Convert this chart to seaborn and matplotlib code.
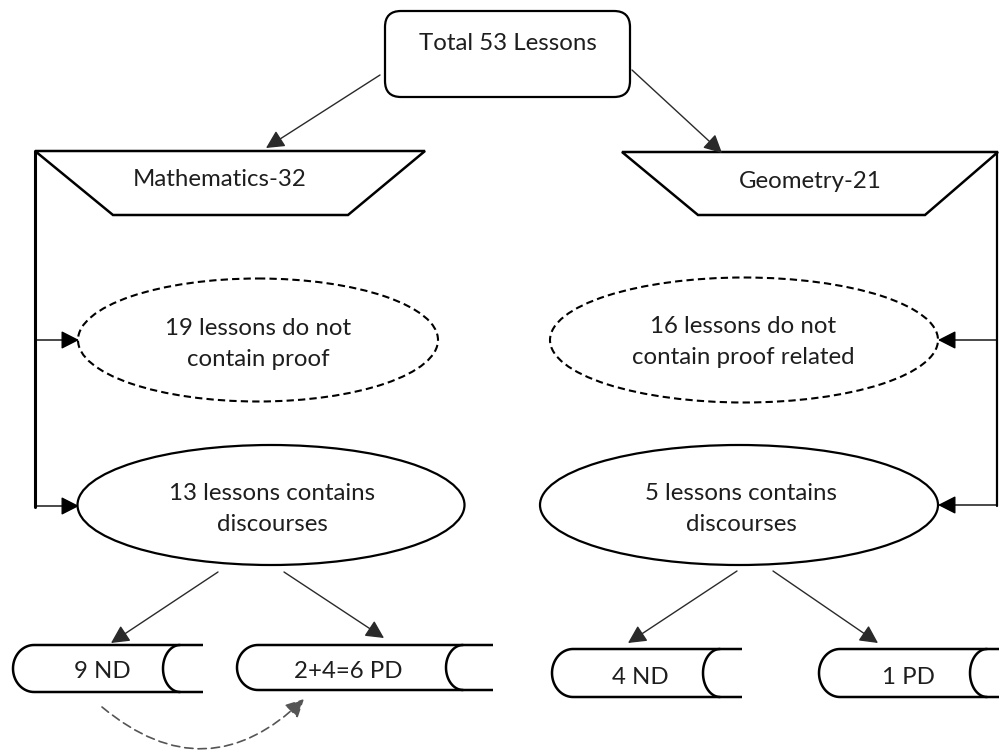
import numpy as np
import matplotlib
matplotlib.use("Agg")
import matplotlib.pyplot as plt
import seaborn as sns
from matplotlib.patches import FancyBboxPatch, Polygon, Ellipse, PathPatch, FancyArrowPatch
from matplotlib.path import Path

# ---------------- data ----------------
total_lessons = 53
subjects = ["Mathematics", "Geometry"]
subject_counts = [32, 21]
no_proof_counts = [19, 16]
no_proof_suffix = ["contain proof", "contain proof related"]
discourse_counts = [13, 5]
nd_counts = [9, 4]
pd_labels = ["2+4=6 PD", "1 PD"]

# ---------------- style ----------------
sns.set_theme(style="white")
plt.rcParams["font.family"] = ["Lato", "DejaVu Sans"]
FS = 17.3
TXT = "#1e1e1e"
EDGE = "black"
LS = 1.57

fig = plt.figure(figsize=(9.99, 7.5), dpi=100)
ax = fig.add_axes([0, 0, 1, 1])
ax.set_xlim(0, 999)
ax.set_ylim(750, 0)
ax.axis("off")


def arrow(p0, p1, color="#2a2a2a", lw=1.0, ls="-", cs="arc3,rad=0", hl=0.55, hw=0.28):
    a = FancyArrowPatch(p0, p1, arrowstyle=f"-|>,head_length={hl},head_width={hw}",
                        mutation_scale=20, color=color, lw=lw, linestyle=ls,
                        connectionstyle=cs, shrinkA=0, shrinkB=0, zorder=3)
    ax.add_patch(a)


def storage(L, R, T, B, a=21, e=23, r=17):
    m = (T + B) / 2.0
    h = (B - T) / 2.0
    t = np.linspace(np.pi / 2, 3 * np.pi / 2, 40)
    lx = (L + a) + a * np.cos(t)
    ly = m - h * np.sin(t)
    verts = [(R, T)] + list(zip(lx, ly)) + [(R, B)]
    codes = [Path.MOVETO] + [Path.LINETO] * (len(verts) - 1)
    ax.add_patch(PathPatch(Path(verts, codes), fill=False, lw=1.8, edgecolor=EDGE, zorder=2))
    cx = R - e
    rx = cx + r * np.cos(t)
    ry = m - h * np.sin(t)
    ax.plot(rx, ry, color=EDGE, lw=1.8, zorder=2)


# ---- top rounded box ----
ax.add_patch(FancyBboxPatch((400, 26), 215, 56, boxstyle="round,pad=15,rounding_size=16",
                            fill=False, edgecolor=EDGE, lw=1.6, zorder=2))
ax.text(508, 43, f"Total {total_lessons} Lessons", ha="center", va="center", fontsize=FS, color=TXT)

arrow((380, 75), (266, 148))
arrow((632, 70), (722, 153))

# ---- trapezoids ----
ax.add_patch(Polygon([(35, 151), (425, 151), (348, 215), (113, 215)], closed=True,
                     fill=False, edgecolor=EDGE, lw=1.8, zorder=2))
ax.add_patch(Polygon([(622, 152), (998, 152), (925, 215), (698, 215)], closed=True,
                     fill=False, edgecolor=EDGE, lw=1.8, zorder=2))
ax.text(220, 180, f"{subjects[0]}-{subject_counts[0]}", ha="center", va="center", fontsize=FS, color=TXT)
ax.text(810, 182, f"{subjects[1]}-{subject_counts[1]}", ha="center", va="center", fontsize=FS, color=TXT)

# ---- side connectors ----
ax.plot([35, 35], [151, 507], color=EDGE, lw=2.2, zorder=2)
ax.plot([997, 997], [152, 506], color=EDGE, lw=1.6, zorder=2)
arrow((35, 340), (79, 340), color=EDGE)
arrow((35, 506), (79, 506), color=EDGE)
arrow((997, 340), (938, 340), color=EDGE)
arrow((997, 505), (938, 505), color=EDGE)

# ---- ellipses ----
ax.add_patch(Ellipse((258, 340), 360, 123, fill=False, edgecolor=EDGE, lw=1.5,
                     linestyle=(0, (3.5, 2)), zorder=2))
ax.add_patch(Ellipse((744, 340), 388, 125, fill=False, edgecolor=EDGE, lw=1.5,
                     linestyle=(0, (3.5, 2)), zorder=2))
ax.add_patch(Ellipse((271, 505), 387, 120, fill=False, edgecolor=EDGE, lw=1.6, zorder=2))
ax.add_patch(Ellipse((739, 505), 398, 120, fill=False, edgecolor=EDGE, lw=1.6, zorder=2))

ax.text(258, 344, f"{no_proof_counts[0]} lessons do not\n{no_proof_suffix[0]}", ha="center",
        va="center", fontsize=FS, color=TXT, linespacing=LS)
ax.text(743, 342, f"{no_proof_counts[1]} lessons do not\n{no_proof_suffix[1]}", ha="center",
        va="center", fontsize=FS, color=TXT, linespacing=LS)
ax.text(272, 509, f"{discourse_counts[0]} lessons contains\ndiscourses", ha="center",
        va="center", fontsize=FS, color=TXT, linespacing=LS)
ax.text(741, 509, f"{discourse_counts[1]} lessons contains\ndiscourses", ha="center",
        va="center", fontsize=FS, color=TXT, linespacing=LS)

# ---- bottom arrows ----
arrow((218, 572), (111, 643))
arrow((284, 572), (384, 638))
arrow((737, 571), (628, 643))
arrow((773, 571), (878, 643))

# ---- storage shapes ----
storage(13, 203, 645, 692)
storage(237, 493, 645, 690, e=30)
storage(552, 742, 649, 697, e=22)
storage(819, 1010, 649, 697, e=23)

ax.text(102, 672, f"{nd_counts[0]} ND", ha="center", va="center", fontsize=FS, color=TXT)
ax.text(348, 672, pd_labels[0], ha="center", va="center", fontsize=FS, color=TXT)
ax.text(640, 677, f"{nd_counts[1]} ND", ha="center", va="center", fontsize=FS, color=TXT)
ax.text(908, 677, pd_labels[1], ha="center", va="center", fontsize=FS, color=TXT)

# ---- dashed curved arrow ----
arrow((102, 707), (304, 699), color="#555555", lw=1.2, ls=(0, (5, 3)), cs="arc3,rad=0.45")

fig.savefig("out.png", dpi=100)
